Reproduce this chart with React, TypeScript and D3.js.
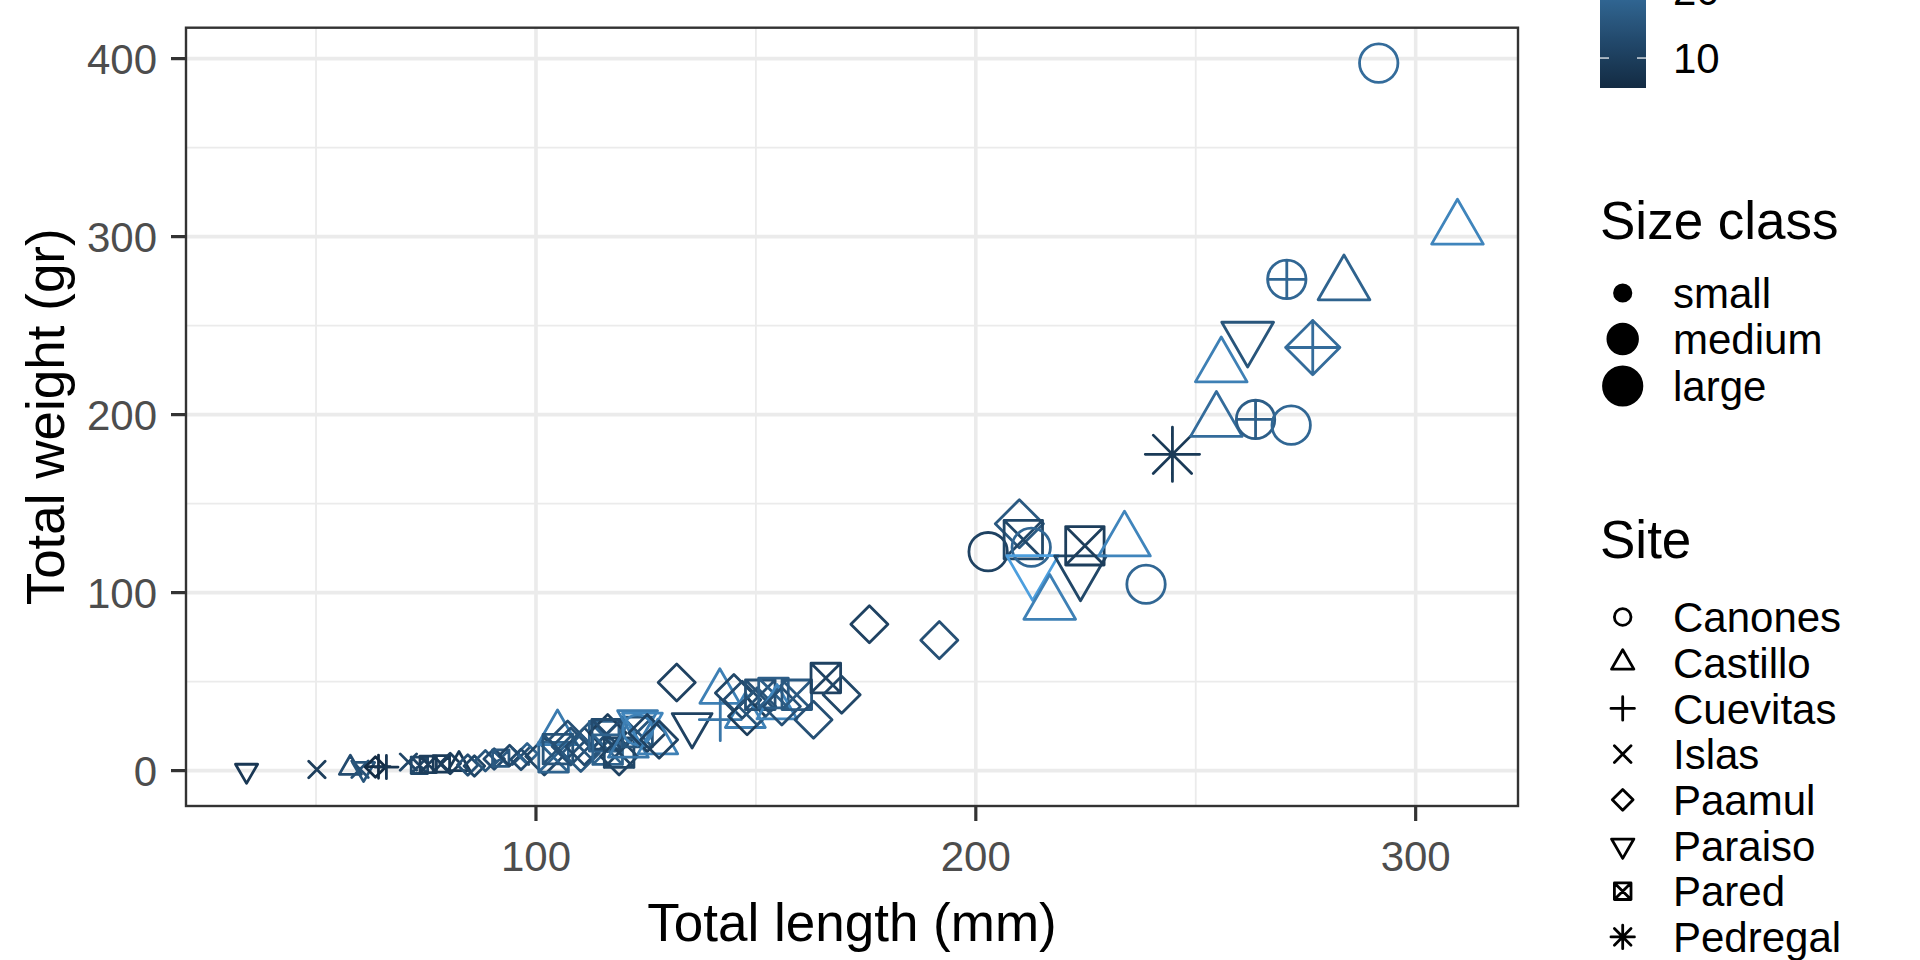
import { useEffect } from "react";
import * as d3 from "d3";

// legend / axis content
const sites = ["Canones", "Castillo", "Cuevitas", "Islas", "Paamul", "Paraiso", "Pared", "Pedregal"];
const sizeClasses = ["small", "medium", "large"];
const xTicks = [100, 200, 300];
const xMinor = [50, 150, 250];
const yTicks = [0, 100, 200, 300, 400];
const yMinor = [50, 150, 250, 350];
const colourTicks = [10, 20, 30];
const colourRange = [5.6, 33.5];

// one entry per fish
const totalLength = [
  34.2, 50.2, 57.8, 60.0, 60.8, 63.5, 64.2, 66.0, 71.0, 73.5, 75.5, 78.5, 80.5, 82.5, 84.5, 86.0,
  88.5, 90.5, 92.0, 94.0, 96.5, 98.0, 96.6,
  101.9, 104.0, 104.9, 105.0, 107.2, 107.9, 110.2, 111.0, 112.5, 115.5, 116.3, 116.1, 116.3, 118.9,
  118.9, 121.0, 123.1, 123.1, 123.1, 124.2, 125.3, 127.7, 128.0, 132.0, 135.5, 141.8, 141.9, 145.0,
  146.9, 147.6, 148.0, 150.3, 151.0, 154.0, 154.8, 155.9, 159.3, 163.1, 165.9, 169.5,
  175.8, 191.7, 202.8, 209.9, 210.8, 212.6, 212.9, 216.8, 223.8, 224.8, 233.8, 238.7, 244.7,
  254.7, 255.8, 261.8, 263.6, 270.7, 271.7, 276.6, 283.7, 291.6, 309.5,
];
const totalWeight = [
  0.0, 0.6, 1.5, 0.8, 1.0, 2.0, 2.2, 2.0, 4.8, 3.0, 3.5, 3.8, 4.0, 3.6, 3.2, 2.6,
  5.5, 6.5, 7.0, 8.5, 8.0, 9.5, 6.2,
  8.0, 7.5, 21.1, 12.1, 17.4, 13.6, 9.9, 13.6, 17.4, 19.3, 21.1, 20.4, 11.8, 8.0,
  10.1, 14.0, 21.7, 27.2, 23.0, 25.8, 21.1, 15.9, 17.4, 49.5, 25.6, 44.3, 28.6, 43.6,
  39.8, 30.7, 30.5, 36.1, 42.6, 43.6, 35.5, 36.1, 42.6, 28.6, 52.0, 42.6,
  82.2, 73.3, 123.0, 138.7, 129.8, 125.5, 112.4, 93.4, 112.2, 126.3, 129.0, 104.7, 177.7,
  196.2, 226.8, 243.5, 197.3, 276.0, 194.1, 237.7, 272.9, 397.5, 304.2,
];
// 0-7 = sites above, 8 and 9 = further sites lower in the legend
const siteIndex = [
  5, 3, 1, 3, 5, 4, 2, 2, 3, 6, 6, 6, 4, 1, 4, 4,
  4, 4, 6, 4, 3, 4, 4,
  4, 6, 1, 6, 4, 4, 4, 4, 4, 6, 4, 6, 6, 4,
  6, 1, 6, 5, 0, 5, 4, 1, 4, 4, 5, 1, 2, 4,
  4, 1, 4, 4, 6, 6, 1, 4, 6, 4, 6, 4,
  4, 4, 0, 4, 6, 0, 5, 1, 5, 6, 1, 0, 7,
  1, 1, 5, 9, 9, 0, 8, 1, 0, 1,
];
const sizeClass = [
  0, 0, 0, 0, 0, 0, 0, 0, 0, 0, 0, 0, 0, 0, 0, 0,
  0, 0, 0, 0, 0, 0, 0,
  1, 1, 1, 1, 1, 1, 1, 1, 1, 1, 1, 1, 1, 1,
  1, 1, 1, 1, 1, 1, 1, 1, 1, 1, 1, 1, 1, 1,
  1, 1, 1, 1, 1, 1, 1, 1, 1, 1, 1, 1,
  1, 1, 2, 2, 2, 2, 2, 2, 2, 2, 2, 2, 2,
  2, 2, 2, 2, 2, 2, 2, 2, 2, 2,
];
const colourValue = [
  8.5, 10, 13, 14, 15, 5.6, 6, 8, 12, 12, 10, 9, 10, 9, 14, 12,
  15, 13, 16, 12, 14, 18, 13,
  12, 18, 23, 15, 14, 14, 16, 13, 15, 18, 10, 13, 18, 11,
  12, 22, 15, 23, 24, 25, 11, 24, 11, 11, 11, 24, 22, 12,
  13, 24, 10, 15, 14, 17, 25, 14, 16, 14, 11, 12,
  11, 14, 11, 16, 12, 19, 30, 24, 12, 10, 25, 19, 9,
  20, 24, 15, 17, 19, 19, 20, 18, 20, 25,
];

const W = 1920;
const H = 960;
const panel = { left: 186, right: 1518, top: 27.7, bottom: 806 };
const sizeB = [8.2, 14.8, 19.2];
const FONT = "'Liberation Sans', Arial, Helvetica, sans-serif";
const STROKE = 2.8;

// R pch symbols 1..10, scaled by b (= RADIUS * size)
function symbolPath(shape: number, b: number): string {
  const circle = (r: number) => `M${-r},0A${r},${r} 0 1,0 ${r},0A${r},${r} 0 1,0 ${-r},0Z`;
  const plus = (h: number) => `M${-h},0H${h}M0,${-h}V${h}`;
  const cross = (h: number) => `M${-h},${-h}L${h},${h}M${-h},${h}L${h},${-h}`;
  const diamond = (h: number) => `M0,${-h}L${h},0L0,${h}L${-h},0Z`;
  const r = 1.555 * b, xc = 1.347 * b, yc = 0.778 * b;
  switch (shape) {
    case 0: return circle(b);
    case 1: return `M0,${-r}L${xc},${yc}L${-xc},${yc}Z`;
    case 2: return plus(Math.SQRT2 * b);
    case 3: return cross(b);
    case 4: return diamond(1.253 * b);
    case 5: return `M0,${r}L${xc},${-yc}L${-xc},${-yc}Z`;
    case 6: return `M${-b},${-b}H${b}V${b}H${-b}Z` + cross(b);
    case 7: return cross(b) + plus(Math.SQRT2 * b);
    case 8: return diamond(Math.SQRT2 * b) + plus(Math.SQRT2 * b);
    default: return circle(b) + plus(b);
  }
}

function expand(ext: [number, number]): [number, number] {
  const d = (ext[1] - ext[0]) * 0.05;
  return [ext[0] - d, ext[1] + d];
}

export default function App() {
  useEffect(() => {
    document.body.style.margin = "0";
  }, []);

  const x = d3
    .scaleLinear()
    .domain(expand(d3.extent(totalLength) as [number, number]))
    .range([panel.left, panel.right]);
  const y = d3
    .scaleLinear()
    .domain(expand(d3.extent(totalWeight) as [number, number]))
    .range([panel.bottom, panel.top]);
  const colour = d3
    .scaleLinear<string>()
    .domain(colourRange)
    .range(["#132B43", "#56B1F7"])
    .interpolate(d3.interpolateLab);

  // colourbar
  const bar = { x: 1600, w: 46, bottom: 88, top: -102 };
  const cb = d3.scaleLinear().domain(colourRange).range([bar.bottom, bar.top]);
  const stops = d3.range(0, 1.0001, 0.05).map((t) => ({
    t,
    c: colour(colourRange[0] + t * (colourRange[1] - colourRange[0])),
  }));

  const points = totalLength.map((l, i) => ({
    l,
    w: totalWeight[i],
    s: siteIndex[i],
    z: sizeClass[i],
    c: colourValue[i],
  }));

  const sizeKeyY = [293, 339, 386];
  const siteKeyY = sites.map((_, i) => 617 + i * 45.7);

  return (
    <svg
      width={W}
      height={H}
      style={{ position: "absolute", left: 0, top: 0, display: "block", background: "#fff" }}
      fontFamily={FONT}
    >
      <defs>
        <linearGradient id="cbar" x1="0" y1="1" x2="0" y2="0">
          {stops.map((s) => (
            <stop key={s.t} offset={s.t} stopColor={s.c} />
          ))}
        </linearGradient>
        <clipPath id="panelClip">
          <rect x={panel.left} y={panel.top} width={panel.right - panel.left} height={panel.bottom - panel.top} />
        </clipPath>
      </defs>

      {/* grid */}
      <g stroke="#EBEBEB">
        {xMinor.map((v) => (
          <line key={"xm" + v} x1={x(v)} x2={x(v)} y1={panel.top} y2={panel.bottom} strokeWidth={1.8} />
        ))}
        {yMinor.map((v) => (
          <line key={"ym" + v} y1={y(v)} y2={y(v)} x1={panel.left} x2={panel.right} strokeWidth={1.8} />
        ))}
        {xTicks.map((v) => (
          <line key={"xM" + v} x1={x(v)} x2={x(v)} y1={panel.top} y2={panel.bottom} strokeWidth={3.6} />
        ))}
        {yTicks.map((v) => (
          <line key={"yM" + v} y1={y(v)} y2={y(v)} x1={panel.left} x2={panel.right} strokeWidth={3.6} />
        ))}
      </g>

      {/* points */}
      <g clipPath="url(#panelClip)" fill="none" strokeWidth={STROKE} strokeLinejoin="round" strokeLinecap="round">
        {points.map((p, i) => (
          <path
            key={i}
            d={symbolPath(p.s, sizeB[p.z])}
            transform={`translate(${x(p.l)},${y(p.w)})`}
            stroke={colour(p.c)}
          />
        ))}
      </g>

      <rect
        x={panel.left}
        y={panel.top}
        width={panel.right - panel.left}
        height={panel.bottom - panel.top}
        fill="none"
        stroke="#333333"
        strokeWidth={2.4}
      />

      {/* axes */}
      <g stroke="#333333" strokeWidth={3.2}>
        {xTicks.map((v) => (
          <line key={"xt" + v} x1={x(v)} x2={x(v)} y1={panel.bottom} y2={panel.bottom + 15} />
        ))}
        {yTicks.map((v) => (
          <line key={"yt" + v} y1={y(v)} y2={y(v)} x1={panel.left - 15} x2={panel.left} />
        ))}
      </g>
      <g fill="#4D4D4D" fontSize={42}>
        {xTicks.map((v) => (
          <text key={"xl" + v} x={x(v)} y={871} textAnchor="middle">
            {v}
          </text>
        ))}
        {yTicks.map((v) => (
          <text key={"yl" + v} x={157} y={y(v)} dy="0.36em" textAnchor="end">
            {v}
          </text>
        ))}
      </g>
      <text x={(panel.left + panel.right) / 2} y={941} textAnchor="middle" fontSize={53} fill="#000">
        Total length (mm)
      </text>
      <text
        transform={`translate(64,${(panel.top + panel.bottom) / 2}) rotate(-90)`}
        textAnchor="middle"
        fontSize={53}
        fill="#000"
      >
        Total weight (gr)
      </text>

      {/* colour legend */}
      <rect x={bar.x} y={bar.top} width={bar.w} height={bar.bottom - bar.top} fill="url(#cbar)" />
      <g stroke="#fff" strokeWidth={1.2}>
        {colourTicks.map((v) => (
          <g key={"cbt" + v}>
            <line x1={bar.x} x2={bar.x + 9} y1={cb(v)} y2={cb(v)} />
            <line x1={bar.x + bar.w - 9} x2={bar.x + bar.w} y1={cb(v)} y2={cb(v)} />
          </g>
        ))}
      </g>
      <g fontSize={42} fill="#000">
        {colourTicks.map((v) => (
          <text key={"cbl" + v} x={1673} y={cb(v)} dy="0.36em">
            {v}
          </text>
        ))}
      </g>

      {/* size legend */}
      <text x={1600} y={239} fontSize={53} fill="#000">
        Size class
      </text>
      {sizeClasses.map((s, i) => (
        <g key={s}>
          <circle cx={1622.7} cy={sizeKeyY[i]} r={sizeB[i]} fill="#000" stroke="#000" strokeWidth={STROKE} />
          <text x={1673} y={sizeKeyY[i]} dy="0.36em" fontSize={42} fill="#000">
            {s}
          </text>
        </g>
      ))}

      {/* site legend */}
      <text x={1600} y={558} fontSize={53} fill="#000">
        Site
      </text>
      {sites.map((s, i) => (
        <g key={s}>
          <path
            d={symbolPath(i, 8.3)}
            transform={`translate(1622.7,${siteKeyY[i]})`}
            fill="none"
            stroke="#000"
            strokeWidth={STROKE}
            strokeLinejoin="round"
            strokeLinecap="round"
          />
          <text x={1673} y={siteKeyY[i]} dy="0.36em" fontSize={42} fill="#000">
            {s}
          </text>
        </g>
      ))}
    </svg>
  );
}
